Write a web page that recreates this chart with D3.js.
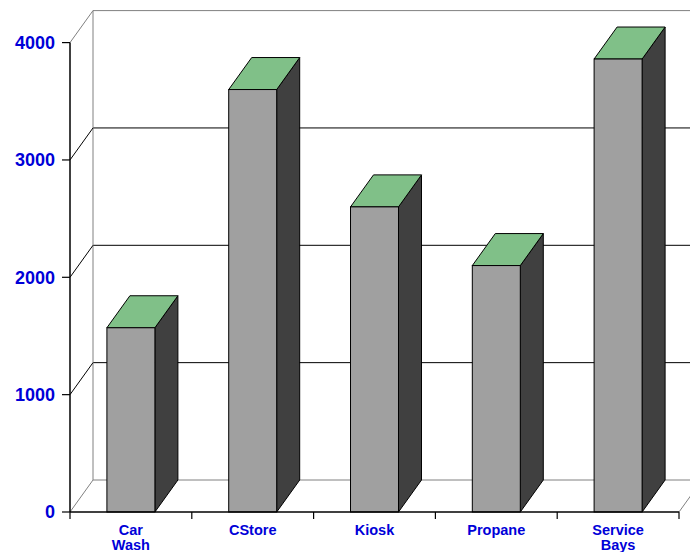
<!DOCTYPE html>
<html>
<head>
<meta charset="utf-8">
<script src="https://cdn.jsdelivr.net/npm/d3@7"></script>
<style>
  html, body { margin: 0; padding: 0; background: #fff; }
  svg { display: block; }
</style>
</head>
<body>
<svg id="chart" width="690" height="552"></svg>
<script>
// Amenity figures by category
const categories = ["Car Wash", "CStore", "Kiosk", "Propane", "Service Bays"];
const values = [1570, 3600, 2600, 2100, 3860];
const yTicks = [0, 1000, 2000, 3000, 4000];

const W = 690, H = 552;
const plotLeft = 70, plotRight = 679, plotBottom = 512, plotTop = 42.6;
const depthX = 23, depthY = -32;   // 3D depth offset of the back wall
const labelColor = "#0000d8";

const svg = d3.select("#chart");

const y = d3.scaleLinear().domain([0, 4000]).range([plotBottom, plotTop]);
const x = d3.scaleBand().domain(categories).range([plotLeft, plotRight]).padding(0);
const barW = x.bandwidth() * 0.394;

const gray = "#808080";

// Back wall: gridlines
const back = svg.append("g");
back.selectAll("line.grid")
  .data(yTicks)
  .join("line")
  .attr("x1", plotLeft + depthX).attr("x2", W + 5)
  .attr("y1", d => y(d) + depthY).attr("y2", d => y(d) + depthY)
  .attr("stroke", d => (d === 0 || d === 4000) ? gray : "#000")
  .attr("stroke-width", 1);

// Back wall left edge
back.append("line")
  .attr("x1", plotLeft + depthX).attr("x2", plotLeft + depthX)
  .attr("y1", y(4000) + depthY).attr("y2", y(0) + depthY)
  .attr("stroke", gray);

// Left wall diagonals
back.selectAll("line.diag")
  .data(yTicks)
  .join("line")
  .attr("x1", plotLeft).attr("y1", d => y(d))
  .attr("x2", plotLeft + depthX).attr("y2", d => y(d) + depthY)
  .attr("stroke", d => (d === 0 || d === 4000) ? gray : "#000");

// Floor right diagonal
back.append("line")
  .attr("x1", plotRight).attr("y1", y(0))
  .attr("x2", plotRight + depthX).attr("y2", y(0) + depthY)
  .attr("stroke", gray);

// Bars as 3D prisms
const bars = svg.append("g")
  .selectAll("g")
  .data(categories.map((c, i) => ({ c, v: values[i] })))
  .join("g");

bars.each(function (d) {
  const g = d3.select(this);
  const cx = x(d.c) + x.bandwidth() / 2;
  const x0 = cx - barW / 2, x1 = cx + barW / 2;
  const y0 = y(0), y1 = y(d.v);
  // side face
  g.append("path")
    .attr("d", `M${x1},${y0}L${x1 + depthX},${y0 + depthY}L${x1 + depthX},${y1 + depthY}L${x1},${y1}Z`)
    .attr("fill", "#404040").attr("stroke", "#000").attr("stroke-width", 1)
    .attr("stroke-linejoin", "round");
  // top face
  g.append("path")
    .attr("d", `M${x0},${y1}L${x0 + depthX},${y1 + depthY}L${x1 + depthX},${y1 + depthY}L${x1},${y1}Z`)
    .attr("fill", "#80c088").attr("stroke", "#000").attr("stroke-width", 1)
    .attr("stroke-linejoin", "round");
  // front face
  g.append("rect")
    .attr("x", x0).attr("y", y1)
    .attr("width", barW).attr("height", y0 - y1)
    .attr("fill", "#a0a0a0").attr("stroke", "#000").attr("stroke-width", 1);
});

// Front y axis
const yAxis = svg.append("g");
yAxis.append("line")
  .attr("x1", plotLeft).attr("x2", plotLeft)
  .attr("y1", y(4000)).attr("y2", y(0))
  .attr("stroke", "#000").attr("stroke-width", 1.5);
yAxis.selectAll("line.tick")
  .data(yTicks)
  .join("line")
  .attr("x1", plotLeft - 8).attr("x2", plotLeft)
  .attr("y1", d => y(d)).attr("y2", d => y(d))
  .attr("stroke", "#000").attr("stroke-width", 1.2);
yAxis.selectAll("text")
  .data(yTicks)
  .join("text")
  .attr("x", plotLeft - 15)
  .attr("y", d => y(d))
  .attr("dy", "0.36em")
  .attr("text-anchor", "end")
  .attr("font-family", "Liberation Sans, Arial, sans-serif")
  .attr("font-weight", "bold")
  .attr("font-size", 18)
  .attr("fill", labelColor)
  .text(d => d);

// Front x axis
const xAxis = svg.append("g");
xAxis.append("line")
  .attr("x1", plotLeft).attr("x2", plotRight)
  .attr("y1", y(0)).attr("y2", y(0))
  .attr("stroke", "#000").attr("stroke-width", 1.5);
const bounds = [plotLeft].concat(categories.map(c => x(c) + x.bandwidth()));
xAxis.selectAll("line.tick")
  .data(bounds)
  .join("line")
  .attr("x1", d => d).attr("x2", d => d)
  .attr("y1", y(0)).attr("y2", y(0) + 7)
  .attr("stroke", "#000").attr("stroke-width", 1.2);

const labels = xAxis.selectAll("text")
  .data(categories)
  .join("text")
  .attr("x", d => x(d) + x.bandwidth() / 2)
  .attr("y", 535)
  .attr("text-anchor", "middle")
  .attr("font-family", "Liberation Sans, Arial, sans-serif")
  .attr("font-weight", "bold")
  .attr("font-size", 14.5)
  .attr("fill", labelColor);
labels.each(function (d) {
  const words = d.split(" ");
  const t = d3.select(this);
  words.forEach((w, i) => {
    t.append("tspan")
      .attr("x", x(d) + x.bandwidth() / 2)
      .attr("dy", i === 0 ? 0 : 15)
      .text(w);
  });
});
</script>
</body>
</html>
